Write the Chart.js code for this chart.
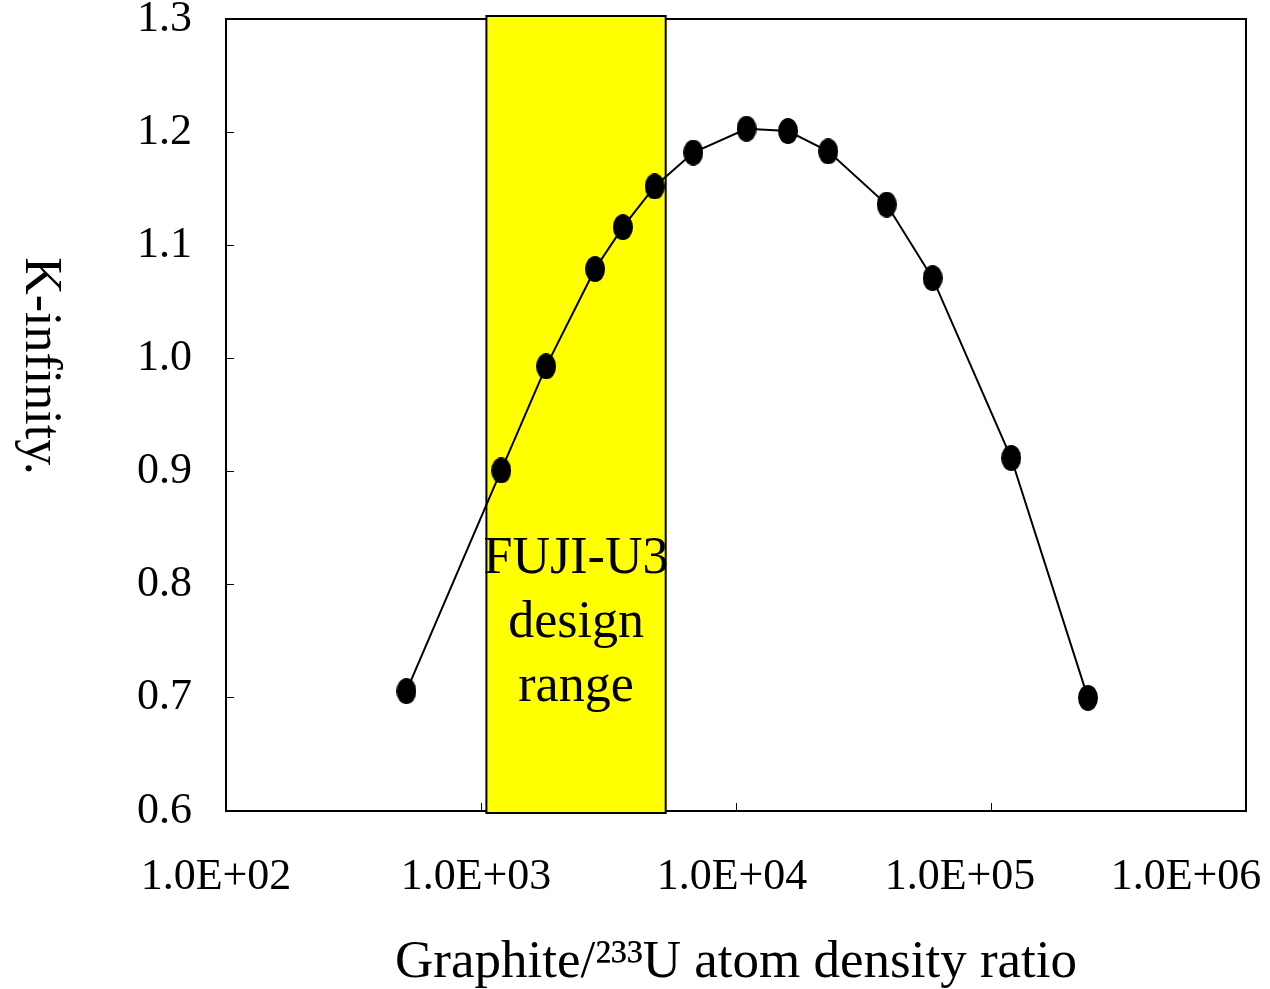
<!DOCTYPE html>
<html>
<head>
<meta charset="utf-8">
<title>K-infinity vs Graphite/233U ratio</title>
<script src="https://cdn.jsdelivr.net/npm/chart.js@4/dist/chart.umd.min.js"></script>
<style>
  html, body { margin: 0; padding: 0; background: #fff; }
  canvas { display: block; }
</style>
</head>
<body>
<canvas id="kinfChart" width="1270" height="989"></canvas>
<script>
// Graphite/233U atom density ratio vs K-infinity
var ratio = [510, 1200, 1800, 2800, 3600, 4800, 6800, 11000, 16000, 23000, 39000, 59000, 120000, 240000];
var kInf = [0.706, 0.901, 0.993, 1.079, 1.116, 1.152, 1.182, 1.203, 1.201, 1.183, 1.136, 1.071, 0.912, 0.700];

var xTicks = [1e2, 1e3, 1e4, 1e5, 1e6];
var xTickLabels = ['1.0E+02', '1.0E+03', '1.0E+04', '1.0E+05', '1.0E+06'];
var yTicks = [0.6, 0.7, 0.8, 0.9, 1.0, 1.1, 1.2, 1.3];

// FUJI-U3 design range on the ratio axis
var designRange = [1050, 5300];
var designLabel = ['FUJI-U3', 'design', 'range'];

var serif = "'Liberation Serif', 'Times New Roman', serif";
// the original (Excel) put its labels a bit left of the tick marks
var xLabelNudge = [-10, -5, -4, -31, -60];

// slightly tall black dots, like the original markers
var dot = document.createElement('canvas');
dot.width = 20;
dot.height = 26;
var dctx = dot.getContext('2d');
dctx.fillStyle = '#000';
dctx.beginPath();
dctx.ellipse(10, 13, 10, 13, 0, 0, Math.PI * 2);
dctx.fill();

var frame = {
    id: 'frame',
    beforeDatasetsDraw: function(chart) {
        var a = chart.chartArea, ctx = chart.ctx;
        ctx.save();
        ctx.strokeStyle = '#000';
        ctx.lineWidth = 2;
        ctx.strokeRect(a.left, a.top, a.right - a.left, a.bottom - a.top);
        ctx.restore();
    }
};

var designBox = {
    id: 'designBox',
    beforeDatasetsDraw: function(chart) {
        var ctx = chart.ctx, x = chart.scales.x, y = chart.scales.y;
        var left = x.getPixelForValue(designRange[0]);
        var right = x.getPixelForValue(designRange[1]);
        var top = y.getPixelForValue(y.max) - 3;
        var bottom = y.getPixelForValue(y.min) + 2;
        ctx.save();
        ctx.fillStyle = '#ffff00';
        ctx.fillRect(left, top, right - left, bottom - top);
        ctx.strokeStyle = '#000';
        ctx.lineWidth = 2;
        ctx.strokeRect(left, top, right - left, bottom - top);
        ctx.fillStyle = '#000';
        ctx.font = '52px ' + serif;
        ctx.textAlign = 'center';
        ctx.textBaseline = 'alphabetic';
        var cx = (left + right) / 2;
        var base = y.getPixelForValue(0.81);
        designLabel.forEach(function(t, i) {
            ctx.fillText(t, cx, base + i * 64);
        });
        ctx.restore();
    }
};

var axisText = {
    id: 'axisText',
    afterDraw: function(chart) {
        var ctx = chart.ctx, x = chart.scales.x, a = chart.chartArea;
        ctx.save();
        ctx.fillStyle = '#000';
        ctx.font = '44px ' + serif;
        ctx.textAlign = 'center';
        ctx.textBaseline = 'middle';
        xTicks.forEach(function(v, i) {
            ctx.fillText(xTickLabels[i], x.getPixelForValue(v) + xLabelNudge[i], a.bottom + 66);
        });
        // y title reads top to bottom
        ctx.translate(40, 366);
        ctx.rotate(Math.PI / 2);
        ctx.font = '52px ' + serif;
        ctx.fillText('K-infinity.', 0, 0);
        ctx.restore();
    }
};

var gridOpts = { drawOnChartArea: false, drawTicks: true, tickLength: -8, color: '#000', lineWidth: 1 };
var borderOpts = { display: true, color: '#000', width: 2 };

var points = ratio.map(function(r, i) { return { x: r, y: kInf[i] }; });

new Chart(document.getElementById('kinfChart'), {
    type: 'line',
    data: {
        datasets: [{
            data: points,
            borderColor: '#000',
            borderWidth: 2,
            pointStyle: dot,
            pointRadius: 10,
            tension: 0,
            fill: false
        }]
    },
    options: {
        responsive: false,
        animation: false,
        devicePixelRatio: 1,
        layout: { padding: { left: 0, right: 24, top: 19, bottom: 0 } },
        plugins: {
            legend: { display: false },
            tooltip: { enabled: false }
        },
        scales: {
            x: {
                type: 'logarithmic',
                min: 100,
                max: 1e6,
                afterBuildTicks: function(s) {
                    s.ticks = xTicks.map(function(v) { return { value: v }; });
                },
                ticks: { display: false },
                grid: gridOpts,
                border: borderOpts,
                title: {
                    display: true,
                    text: 'Graphite/\u00b2\u00b3\u00b3U atom density ratio',
                    color: '#000',
                    font: { family: serif, size: 53 },
                    padding: { top: 0, bottom: -6 }
                },
                afterFit: function(s) {
                    s.height = 178;
                    s.paddingLeft = 0;
                    s.paddingRight = 0;
                }
            },
            y: {
                min: 0.6,
                max: 1.3,
                afterBuildTicks: function(s) {
                    s.ticks = yTicks.map(function(v) { return { value: v }; });
                },
                ticks: {
                    color: '#000',
                    font: { family: serif, size: 44 },
                    padding: 42,
                    callback: function(v) { return v.toFixed(1); }
                },
                grid: gridOpts,
                border: borderOpts,
                afterFit: function(s) {
                    s.width = 226;
                    s.paddingTop = 0;
                    s.paddingBottom = 0;
                }
            }
        }
    },
    plugins: [frame, designBox, axisText]
});
</script>
</body>
</html>
